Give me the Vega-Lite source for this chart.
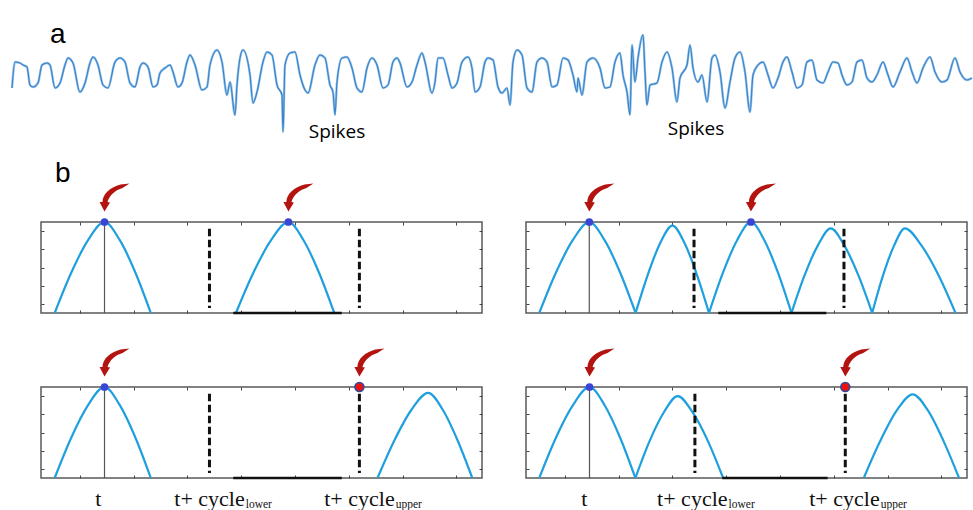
{
 "$schema": "https://vega.github.io/schema/vega-lite/v6.json",
 "padding": 0,
 "background": "white",
 "config": {"view": {"stroke": null}, "axis": {"grid": false}},
 "datasets": {
  "eeg": [
   {"t":0.12,"v":-13},{"t":0.15,"v":13},{"t":0.20,"v":12},{"t":0.23,"v":10},{"t":0.27,"v":8},{"t":0.30,"v":-10},{"t":0.33,"v":-12},{"t":0.38,"v":-8},{"t":0.42,"v":10},{"t":0.47,"v":12},{"t":0.50,"v":10},{"t":0.55,"v":-13},{"t":0.60,"v":-8},{"t":0.65,"v":10},{"t":0.68,"v":17},{"t":0.73,"v":12},{"t":0.80,"v":-17},{"t":0.85,"v":-8},{"t":0.90,"v":12},{"t":0.93,"v":18},{"t":0.98,"v":10},{"t":1.03,"v":-10},{"t":1.08,"v":-13},{"t":1.15,"v":13},{"t":1.20,"v":17},{"t":1.25,"v":13},{"t":1.30,"v":-8},{"t":1.35,"v":-12},{"t":1.40,"v":8},{"t":1.43,"v":12},{"t":1.48,"v":8},{"t":1.53,"v":-12},{"t":1.57,"v":-10},{"t":1.60,"v":2},{"t":1.65,"v":7},{"t":1.70,"v":10},{"t":1.73,"v":3},{"t":1.78,"v":-12},{"t":1.82,"v":-8},{"t":1.87,"v":13},{"t":1.90,"v":20},{"t":1.95,"v":10},{"t":2.02,"v":-15},{"t":2.07,"v":-12},{"t":2.10,"v":10},{"t":2.17,"v":25},{"t":2.22,"v":13},{"t":2.27,"v":-20},{"t":2.30,"v":-7},{"t":2.35,"v":-40},{"t":2.37,"v":-10},{"t":2.40,"v":17},{"t":2.43,"v":25},
   {"t":2.50,"v":0},{"t":2.53,"v":-28},{"t":2.57,"v":-17},{"t":2.63,"v":13},{"t":2.67,"v":23},{"t":2.72,"v":20},{"t":2.77,"v":-10},{"t":2.82,"v":-20},{"t":2.83,"v":-57},{"t":2.85,"v":10},{"t":2.90,"v":22},{"t":2.95,"v":23},{"t":3.00,"v":0},{"t":3.05,"v":-15},{"t":3.08,"v":-18},{"t":3.15,"v":10},{"t":3.20,"v":20},{"t":3.25,"v":17},{"t":3.30,"v":-10},{"t":3.33,"v":-17},{"t":3.35,"v":-40},{"t":3.37,"v":-7},{"t":3.42,"v":17},{"t":3.47,"v":18},{"t":3.52,"v":7},{"t":3.57,"v":-13},{"t":3.62,"v":-17},{"t":3.67,"v":7},{"t":3.72,"v":17},{"t":3.77,"v":10},{"t":3.83,"v":-13},{"t":3.88,"v":-10},{"t":3.93,"v":13},{"t":3.97,"v":17},{"t":4.00,"v":12},{"t":4.07,"v":-12},{"t":4.12,"v":-7},{"t":4.17,"v":10},{"t":4.22,"v":22},{"t":4.25,"v":13},{"t":4.32,"v":-18},{"t":4.35,"v":-7},{"t":4.38,"v":17},{"t":4.43,"v":17},{"t":4.48,"v":0},{"t":4.52,"v":-13},{"t":4.57,"v":-8},{"t":4.62,"v":13},{"t":4.68,"v":18},{"t":4.72,"v":7},{"t":4.75,"v":-17},{"t":4.80,"v":-12},{"t":4.85,"v":13},{"t":4.88,"v":17},
   {"t":4.93,"v":15},{"t":4.98,"v":-12},{"t":5.02,"v":-18},{"t":5.07,"v":-13},{"t":5.10,"v":-30},{"t":5.13,"v":13},{"t":5.17,"v":25},{"t":5.22,"v":20},{"t":5.27,"v":-13},{"t":5.32,"v":-17},{"t":5.37,"v":13},{"t":5.42,"v":17},{"t":5.47,"v":13},{"t":5.52,"v":-12},{"t":5.57,"v":-10},{"t":5.63,"v":17},{"t":5.68,"v":15},{"t":5.73,"v":0},{"t":5.77,"v":-17},{"t":5.78,"v":-3},{"t":5.82,"v":-20},{"t":5.87,"v":13},{"t":5.93,"v":17},{"t":6.00,"v":7},{"t":6.05,"v":-13},{"t":6.10,"v":-12},{"t":6.15,"v":13},{"t":6.20,"v":22},{"t":6.23,"v":0},{"t":6.27,"v":-17},{"t":6.30,"v":-40},{"t":6.32,"v":30},{"t":6.35,"v":-7},{"t":6.38,"v":17},{"t":6.43,"v":40},{"t":6.45,"v":3},{"t":6.47,"v":-30},{"t":6.50,"v":-10},{"t":6.57,"v":-8},{"t":6.62,"v":13},{"t":6.67,"v":23},{"t":6.72,"v":7},{"t":6.77,"v":-27},{"t":6.80,"v":-3},{"t":6.87,"v":10},{"t":6.90,"v":30},{"t":6.93,"v":7},{"t":6.98,"v":-7},{"t":7.02,"v":0},{"t":7.07,"v":-27},{"t":7.12,"v":17},{"t":7.15,"v":20},{"t":7.20,"v":3},
   {"t":7.25,"v":-33},{"t":7.30,"v":-7},{"t":7.35,"v":17},{"t":7.40,"v":23},{"t":7.45,"v":3},{"t":7.50,"v":-37},{"t":7.53,"v":0},{"t":7.58,"v":10},{"t":7.63,"v":13},{"t":7.68,"v":0},{"t":7.73,"v":-13},{"t":7.78,"v":-3},{"t":7.83,"v":13},{"t":7.87,"v":18},{"t":7.92,"v":3},{"t":7.97,"v":-13},{"t":8.02,"v":-10},{"t":8.07,"v":13},{"t":8.12,"v":15},{"t":8.17,"v":-5},{"t":8.23,"v":-8},{"t":8.28,"v":3},{"t":8.33,"v":13},{"t":8.38,"v":12},{"t":8.42,"v":0},{"t":8.47,"v":-10},{"t":8.52,"v":-7},{"t":8.57,"v":13},{"t":8.62,"v":15},{"t":8.67,"v":-3},{"t":8.72,"v":-7},{"t":8.77,"v":0},{"t":8.83,"v":13},{"t":8.88,"v":0},{"t":8.93,"v":-12},{"t":9.00,"v":3},{"t":9.07,"v":17},{"t":9.12,"v":3},{"t":9.17,"v":-8},{"t":9.23,"v":7},{"t":9.30,"v":18},{"t":9.35,"v":3},{"t":9.42,"v":-7},{"t":9.47,"v":-5},{"t":9.55,"v":17},{"t":9.60,"v":3},{"t":9.67,"v":-5},{"t":9.72,"v":-3}
  ],
  "notes": [
   {"t":0.50,"v":32,"label":"a","kind":"panel"},
   {"t":0.55,"v":-107,"label":"b","kind":"panel"},
   {"t":3.37,"v":-63,"label":"Spikes","kind":"note"},
   {"t":6.96,"v":-60,"label":"Spikes","kind":"note"}
  ],
  "curves": [
   {"panel":"TL","hump":1,"x":3.1,"y":0},{"panel":"TL","hump":1,"x":6.83,"y":0.44},{"panel":"TL","hump":1,"x":10.67,"y":0.8},{"panel":"TL","hump":1,"x":14.4,"y":1},{"panel":"TL","hump":1,"x":17.87,"y":0.8},{"panel":"TL","hump":1,"x":21.44,"y":0.44},{"panel":"TL","hump":1,"x":24.9,"y":0},
   {"panel":"TL","hump":2,"x":44.2,"y":0},{"panel":"TL","hump":2,"x":48.13,"y":0.44},{"panel":"TL","hump":2,"x":52.17,"y":0.8},{"panel":"TL","hump":2,"x":56.1,"y":1},{"panel":"TL","hump":2,"x":59.53,"y":0.8},{"panel":"TL","hump":2,"x":63.07,"y":0.44},{"panel":"TL","hump":2,"x":66.5,"y":0},
   {"panel":"TR","hump":1,"x":3.0,"y":0},{"panel":"TR","hump":1,"x":6.75,"y":0.44},{"panel":"TR","hump":1,"x":10.6,"y":0.8},{"panel":"TR","hump":1,"x":14.35,"y":1},{"panel":"TR","hump":1,"x":17.82,"y":0.8},{"panel":"TR","hump":1,"x":21.39,"y":0.44},{"panel":"TR","hump":1,"x":24.85,"y":0},
   {"panel":"TR","hump":2,"x":24.85,"y":0},{"panel":"TR","hump":2,"x":27.61,"y":0.42},{"panel":"TR","hump":2,"x":30.44,"y":0.77},{"panel":"TR","hump":2,"x":33.2,"y":0.96},{"panel":"TR","hump":2,"x":35.94,"y":0.77},{"panel":"TR","hump":2,"x":38.76,"y":0.42},{"panel":"TR","hump":2,"x":41.5,"y":0},
   {"panel":"TR","hump":3,"x":41.5,"y":0},{"panel":"TR","hump":3,"x":44.64,"y":0.44},{"panel":"TR","hump":3,"x":47.87,"y":0.8},{"panel":"TR","hump":3,"x":51.0,"y":1},{"panel":"TR","hump":3,"x":54.04,"y":0.8},{"panel":"TR","hump":3,"x":57.16,"y":0.44},{"panel":"TR","hump":3,"x":60.2,"y":0},
   {"panel":"TR","hump":4,"x":60.2,"y":0},{"panel":"TR","hump":4,"x":63.14,"y":0.41},{"panel":"TR","hump":4,"x":66.16,"y":0.74},{"panel":"TR","hump":4,"x":69.1,"y":0.93},{"panel":"TR","hump":4,"x":72.2,"y":0.74},{"panel":"TR","hump":4,"x":75.4,"y":0.41},{"panel":"TR","hump":4,"x":78.5,"y":0},
   {"panel":"TR","hump":5,"x":78.5,"y":0},{"panel":"TR","hump":5,"x":80.94,"y":0.41},{"panel":"TR","hump":5,"x":83.46,"y":0.74},{"panel":"TR","hump":5,"x":85.9,"y":0.93},{"panel":"TR","hump":5,"x":89.7,"y":0.74},{"panel":"TR","hump":5,"x":93.6,"y":0.41},{"panel":"TR","hump":5,"x":97.4,"y":0},
   {"panel":"BL","hump":1,"x":3.1,"y":0},{"panel":"BL","hump":1,"x":6.83,"y":0.44},{"panel":"BL","hump":1,"x":10.67,"y":0.8},{"panel":"BL","hump":1,"x":14.4,"y":1},{"panel":"BL","hump":1,"x":17.87,"y":0.8},{"panel":"BL","hump":1,"x":21.44,"y":0.44},{"panel":"BL","hump":1,"x":24.9,"y":0},
   {"panel":"BL","hump":2,"x":76.3,"y":0},{"panel":"BL","hump":2,"x":80.1,"y":0.41},{"panel":"BL","hump":2,"x":84.0,"y":0.75},{"panel":"BL","hump":2,"x":87.8,"y":0.935},{"panel":"BL","hump":2,"x":91.1,"y":0.75},{"panel":"BL","hump":2,"x":94.5,"y":0.41},{"panel":"BL","hump":2,"x":97.8,"y":0},
   {"panel":"BR","hump":1,"x":3.0,"y":0},{"panel":"BR","hump":1,"x":6.76,"y":0.44},{"panel":"BR","hump":1,"x":10.64,"y":0.8},{"panel":"BR","hump":1,"x":14.4,"y":1},{"panel":"BR","hump":1,"x":17.83,"y":0.8},{"panel":"BR","hump":1,"x":21.37,"y":0.44},{"panel":"BR","hump":1,"x":24.8,"y":0},
   {"panel":"BR","hump":2,"x":24.8,"y":0},{"panel":"BR","hump":2,"x":27.97,"y":0.4},{"panel":"BR","hump":2,"x":31.23,"y":0.72},{"panel":"BR","hump":2,"x":34.4,"y":0.9},{"panel":"BR","hump":2,"x":37.8,"y":0.72},{"panel":"BR","hump":2,"x":41.3,"y":0.4},{"panel":"BR","hump":2,"x":44.7,"y":0},
   {"panel":"BR","hump":3,"x":76.6,"y":0},{"panel":"BR","hump":3,"x":80.26,"y":0.4},{"panel":"BR","hump":3,"x":84.04,"y":0.74},{"panel":"BR","hump":3,"x":87.7,"y":0.92},{"panel":"BR","hump":3,"x":91.17,"y":0.74},{"panel":"BR","hump":3,"x":94.74,"y":0.4},{"panel":"BR","hump":3,"x":98.2,"y":0}
  ],
  "refs": [
   {"panel":"TL","x":14.4,"role":"t"},{"panel":"TL","x":38.2,"role":"lower"},{"panel":"TL","x":72.2,"role":"upper"},
   {"panel":"TR","x":14.35,"role":"t"},{"panel":"TR","x":38.1,"role":"lower"},{"panel":"TR","x":72.1,"role":"upper"},
   {"panel":"BL","x":14.4,"role":"t"},{"panel":"BL","x":38.2,"role":"lower"},{"panel":"BL","x":72.2,"role":"upper"},
   {"panel":"BR","x":14.4,"role":"t"},{"panel":"BR","x":38.3,"role":"lower"},{"panel":"BR","x":72.4,"role":"upper"}
  ],
  "events": [
   {"panel":"TL","x":14.4,"kind":"peak"},{"panel":"TL","x":56.1,"kind":"peak"},
   {"panel":"TR","x":14.35,"kind":"peak"},{"panel":"TR","x":51.0,"kind":"peak"},
   {"panel":"BL","x":14.4,"kind":"peak"},{"panel":"BL","x":72.2,"kind":"bound"},
   {"panel":"BR","x":14.4,"kind":"peak"},{"panel":"BR","x":72.4,"kind":"bound"}
  ],
  "base": [
   {"panel":"TL","x":43.6,"x2":68.2},{"panel":"TR","x":43.6,"x2":68.1},
   {"panel":"BL","x":43.6,"x2":68.2},{"panel":"BR","x":44.5,"x2":68.4}
  ],
  "xlabels": [
   {"panel":"BL","x":13.0,"text":"t","part":"t"},
   {"panel":"BL","x":46.2,"text":"t+ cycle","part":"main"},{"panel":"BL","x":46.2,"text":"lower","part":"sub"},
   {"panel":"BL","x":80.2,"text":"t+ cycle","part":"main"},{"panel":"BL","x":80.2,"text":"upper","part":"sub"},
   {"panel":"BR","x":13.2,"text":"t","part":"t"},
   {"panel":"BR","x":45.7,"text":"t+ cycle","part":"main"},{"panel":"BR","x":45.7,"text":"lower","part":"sub"},
   {"panel":"BR","x":80.2,"text":"t+ cycle","part":"main"},{"panel":"BR","x":80.2,"text":"upper","part":"sub"}
  ]
 },
 "bounds": "flush",
 "spacing": 0,
 "vconcat": [
  {
   "width": 973, "height": 148,
   "layer": [
    {"data":{"name":"eeg"},"mark":{"type":"line","color":"#92c2ea","strokeWidth":2.4,"interpolate":"monotone"},
     "encoding":{"x":{"field":"t","type":"quantitative","scale":{"domain":[0,9.73],"nice":false,"zero":false},"axis":null},
                 "y":{"field":"v","type":"quantitative","scale":{"domain":[-73,75],"nice":false,"zero":false},"axis":null}}},
    {"data":{"name":"eeg"},"mark":{"type":"line","color":"#2a76c0","strokeWidth":1.1,"opacity":0.85,"interpolate":"monotone"},
     "encoding":{"x":{"field":"t","type":"quantitative","axis":null},"y":{"field":"v","type":"quantitative","axis":null}}},
    {"data":{"name":"notes"},"transform":[{"filter":"datum.kind === 'panel'"}],
     "mark":{"type":"text","font":"Liberation Sans","fontSize":28,"align":"left","baseline":"alphabetic","color":"#000000"},
     "encoding":{"x":{"field":"t","type":"quantitative","axis":null},"y":{"field":"v","type":"quantitative","axis":null},"text":{"field":"label"}}},
    {"data":{"name":"notes"},"transform":[{"filter":"datum.kind === 'note'"}],
     "mark":{"type":"text","font":"Open Sans","fontSize":19,"align":"center","baseline":"alphabetic","color":"#000000"},
     "encoding":{"x":{"field":"t","type":"quantitative","axis":null},"y":{"field":"v","type":"quantitative","axis":null},"text":{"field":"label"}}}
   ]
  },
  {"width": 1, "height": 74, "data": {"values": [{}]}, "mark": {"type": "text", "text": ""}},
  {
   "bounds": "flush", "spacing": 0,
   "hconcat": [
    {"width": 41, "height": 91, "data": {"values": [{}]}, "mark": {"type": "text", "text": ""}},
    {
     "width": 441, "height": 91,
     "view": {"stroke": "#5a5a5a", "strokeWidth": 1.5},
     "resolve": {"axis": {"x": "independent", "y": "independent"}},
     "layer": [
      {"data":{"name":"curves"},"transform":[{"filter":"datum.panel === 'TL'"}],
       "mark":{"type":"line","color":"#1e9fde","strokeWidth":2.2,"interpolate":"monotone"},
       "encoding":{"x":{"field":"x","type":"quantitative","scale":{"domain":[0,100],"nice":false,"zero":false},"axis":{"orient":"bottom","values":[8.8,21,33.2,45.4,57.6,69.8,82,94.2],"tickSize":-3,"tickColor":"#444444","labels":false,"domain":false,"grid":false,"title":null}},
                   "y":{"field":"y","type":"quantitative","scale":{"domain":[0,1],"nice":false,"zero":false},"axis":{"orient":"left","values":[0.1,0.3,0.5,0.7,0.9],"tickSize":-3,"tickColor":"#444444","labels":false,"domain":false,"grid":false,"title":null}},
                   "detail":{"field":"hump"}}},
      {"data":{"name":"refs"},"transform":[{"filter":"datum.panel === 'TL' && datum.role !== 't'"}],
       "mark":{"type":"rule","color":"#111111","strokeWidth":3,"strokeDash":[7.5,3.5]},
       "encoding":{"x":{"field":"x","type":"quantitative","axis":{"orient":"top","values":[8.8,21,33.2,45.4,57.6,69.8,82,94.2],"tickSize":-3,"tickColor":"#444444","labels":false,"domain":false,"grid":false,"title":null}},
                   "y":{"datum":0.925,"type":"quantitative","axis":{"orient":"right","values":[0.1,0.3,0.5,0.7,0.9],"tickSize":-3,"tickColor":"#444444","labels":false,"domain":false,"grid":false,"title":null}},
                   "y2":{"datum":0.055}}},
      {"data":{"name":"refs"},"transform":[{"filter":"datum.panel === 'TL' && datum.role === 't'"}],
       "mark":{"type":"rule","color":"#555555","strokeWidth":1.2},
       "encoding":{"x":{"field":"x","type":"quantitative","axis":null},"y":{"datum":0,"type":"quantitative","axis":null},"y2":{"datum":1}}},
      {"data":{"name":"base"},"transform":[{"filter":"datum.panel === 'TL'"}],
       "mark":{"type":"rule","color":"#111111","strokeWidth":2.5},
       "encoding":{"x":{"field":"x","type":"quantitative","axis":null},"x2":{"field":"x2"},"y":{"datum":0,"type":"quantitative","axis":null}}},
      {"data":{"name":"events"},"transform":[{"filter":"datum.panel === 'TL' && datum.kind === 'peak'"}],
       "mark":{"type":"point","shape":"circle","size":60,"filled":true,"color":"#3a45d4","opacity":1},
       "encoding":{"x":{"field":"x","type":"quantitative","axis":null},"y":{"datum":1,"type":"quantitative","axis":null}}},
      {"data":{"name":"events"},"transform":[{"filter":"datum.panel === 'TL'"}],
       "mark":{"type":"point","shape":"M0,-10.5L-5,-20L-2,-20C-2,-28,6,-35,16,-37.5L25,-38.5L18,-34C11,-32,5,-27,3,-20L5.5,-19.5Z","size":4,"filled":true,"color":"#b3140f","opacity":1,"strokeWidth":0},
       "encoding":{"x":{"field":"x","type":"quantitative","axis":null},"y":{"datum":1,"type":"quantitative","axis":null}}}
     ]
    },
    {"width": 44, "height": 91, "data": {"values": [{}]}, "mark": {"type": "text", "text": ""}},
    {
     "width": 441, "height": 91,
     "view": {"stroke": "#5a5a5a", "strokeWidth": 1.5},
     "resolve": {"axis": {"x": "independent", "y": "independent"}},
     "layer": [
      {"data":{"name":"curves"},"transform":[{"filter":"datum.panel === 'TR'"}],
       "mark":{"type":"line","color":"#1e9fde","strokeWidth":2.2,"interpolate":"monotone"},
       "encoding":{"x":{"field":"x","type":"quantitative","scale":{"domain":[0,100],"nice":false,"zero":false},"axis":{"orient":"bottom","values":[8.8,21,33.2,45.4,57.6,69.8,82,94.2],"tickSize":-3,"tickColor":"#444444","labels":false,"domain":false,"grid":false,"title":null}},
                   "y":{"field":"y","type":"quantitative","scale":{"domain":[0,1],"nice":false,"zero":false},"axis":{"orient":"left","values":[0.1,0.3,0.5,0.7,0.9],"tickSize":-3,"tickColor":"#444444","labels":false,"domain":false,"grid":false,"title":null}},
                   "detail":{"field":"hump"}}},
      {"data":{"name":"refs"},"transform":[{"filter":"datum.panel === 'TR' && datum.role !== 't'"}],
       "mark":{"type":"rule","color":"#111111","strokeWidth":3,"strokeDash":[7.5,3.5]},
       "encoding":{"x":{"field":"x","type":"quantitative","axis":{"orient":"top","values":[8.8,21,33.2,45.4,57.6,69.8,82,94.2],"tickSize":-3,"tickColor":"#444444","labels":false,"domain":false,"grid":false,"title":null}},
                   "y":{"datum":0.925,"type":"quantitative","axis":{"orient":"right","values":[0.1,0.3,0.5,0.7,0.9],"tickSize":-3,"tickColor":"#444444","labels":false,"domain":false,"grid":false,"title":null}},
                   "y2":{"datum":0.055}}},
      {"data":{"name":"refs"},"transform":[{"filter":"datum.panel === 'TR' && datum.role === 't'"}],
       "mark":{"type":"rule","color":"#555555","strokeWidth":1.2},
       "encoding":{"x":{"field":"x","type":"quantitative","axis":null},"y":{"datum":0,"type":"quantitative","axis":null},"y2":{"datum":1}}},
      {"data":{"name":"base"},"transform":[{"filter":"datum.panel === 'TR'"}],
       "mark":{"type":"rule","color":"#111111","strokeWidth":2.5},
       "encoding":{"x":{"field":"x","type":"quantitative","axis":null},"x2":{"field":"x2"},"y":{"datum":0,"type":"quantitative","axis":null}}},
      {"data":{"name":"events"},"transform":[{"filter":"datum.panel === 'TR' && datum.kind === 'peak'"}],
       "mark":{"type":"point","shape":"circle","size":60,"filled":true,"color":"#3a45d4","opacity":1},
       "encoding":{"x":{"field":"x","type":"quantitative","axis":null},"y":{"datum":1,"type":"quantitative","axis":null}}},
      {"data":{"name":"events"},"transform":[{"filter":"datum.panel === 'TR'"}],
       "mark":{"type":"point","shape":"M0,-10.5L-5,-20L-2,-20C-2,-28,6,-35,16,-37.5L25,-38.5L18,-34C11,-32,5,-27,3,-20L5.5,-19.5Z","size":4,"filled":true,"color":"#b3140f","opacity":1,"strokeWidth":0},
       "encoding":{"x":{"field":"x","type":"quantitative","axis":null},"y":{"datum":1,"type":"quantitative","axis":null}}}
     ]
    }
   ]
  },
  {"width": 1, "height": 165, "data": {"values": [{}]}, "mark": {"type": "text", "text": ""}},
  {
   "bounds": "flush", "spacing": 0,
   "hconcat": [
    {"width": 41, "height": 91, "data": {"values": [{}]}, "mark": {"type": "text", "text": ""}},
    {
     "width": 441, "height": 91,
     "view": {"stroke": "#5a5a5a", "strokeWidth": 1.5},
     "resolve": {"axis": {"x": "independent", "y": "independent"}},
     "layer": [
      {"data":{"name":"curves"},"transform":[{"filter":"datum.panel === 'BL'"}],
       "mark":{"type":"line","color":"#1e9fde","strokeWidth":2.2,"interpolate":"monotone"},
       "encoding":{"x":{"field":"x","type":"quantitative","scale":{"domain":[0,100],"nice":false,"zero":false},"axis":{"orient":"bottom","values":[8.8,21,33.2,45.4,57.6,69.8,82,94.2],"tickSize":-3,"tickColor":"#444444","labels":false,"domain":false,"grid":false,"title":null}},
                   "y":{"field":"y","type":"quantitative","scale":{"domain":[0,1],"nice":false,"zero":false},"axis":{"orient":"left","values":[0.1,0.3,0.5,0.7,0.9],"tickSize":-3,"tickColor":"#444444","labels":false,"domain":false,"grid":false,"title":null}},
                   "detail":{"field":"hump"}}},
      {"data":{"name":"refs"},"transform":[{"filter":"datum.panel === 'BL' && datum.role !== 't'"}],
       "mark":{"type":"rule","color":"#111111","strokeWidth":3,"strokeDash":[7.5,3.5]},
       "encoding":{"x":{"field":"x","type":"quantitative","axis":{"orient":"top","values":[8.8,21,33.2,45.4,57.6,69.8,82,94.2],"tickSize":-3,"tickColor":"#444444","labels":false,"domain":false,"grid":false,"title":null}},
                   "y":{"datum":0.925,"type":"quantitative","axis":{"orient":"right","values":[0.1,0.3,0.5,0.7,0.9],"tickSize":-3,"tickColor":"#444444","labels":false,"domain":false,"grid":false,"title":null}},
                   "y2":{"datum":0.055}}},
      {"data":{"name":"refs"},"transform":[{"filter":"datum.panel === 'BL' && datum.role === 't'"}],
       "mark":{"type":"rule","color":"#555555","strokeWidth":1.2},
       "encoding":{"x":{"field":"x","type":"quantitative","axis":null},"y":{"datum":0,"type":"quantitative","axis":null},"y2":{"datum":1}}},
      {"data":{"name":"base"},"transform":[{"filter":"datum.panel === 'BL'"}],
       "mark":{"type":"rule","color":"#111111","strokeWidth":2.5},
       "encoding":{"x":{"field":"x","type":"quantitative","axis":null},"x2":{"field":"x2"},"y":{"datum":0,"type":"quantitative","axis":null}}},
      {"data":{"name":"events"},"transform":[{"filter":"datum.panel === 'BL' && datum.kind === 'peak'"}],
       "mark":{"type":"point","shape":"circle","size":60,"filled":true,"color":"#3a45d4","opacity":1},
       "encoding":{"x":{"field":"x","type":"quantitative","axis":null},"y":{"datum":1,"type":"quantitative","axis":null}}},
      {"data":{"name":"events"},"transform":[{"filter":"datum.panel === 'BL' && datum.kind === 'bound'"}],
       "mark":{"type":"point","shape":"circle","size":80,"filled":true,"fill":"#ee1111","stroke":"#2c4b9c","strokeWidth":1.6,"opacity":1},
       "encoding":{"x":{"field":"x","type":"quantitative","axis":null},"y":{"datum":1,"type":"quantitative","axis":null}}},
      {"data":{"name":"events"},"transform":[{"filter":"datum.panel === 'BL'"}],
       "mark":{"type":"point","shape":"M0,-10.5L-5,-20L-2,-20C-2,-28,6,-35,16,-37.5L25,-38.5L18,-34C11,-32,5,-27,3,-20L5.5,-19.5Z","size":4,"filled":true,"color":"#b3140f","opacity":1,"strokeWidth":0},
       "encoding":{"x":{"field":"x","type":"quantitative","axis":null},"y":{"datum":1,"type":"quantitative","axis":null}}},
      {"data":{"name":"xlabels"},"transform":[{"filter":"datum.panel === 'BL' && datum.part === 't'"}],
       "mark":{"type":"text","font":"Liberation Serif","fontSize":22,"align":"center","baseline":"alphabetic","color":"#111111"},
       "encoding":{"x":{"field":"x","type":"quantitative","axis":null},"y":{"datum":-0.31,"type":"quantitative","axis":null},"text":{"field":"text"}}},
      {"data":{"name":"xlabels"},"transform":[{"filter":"datum.panel === 'BL' && datum.part === 'main'"}],
       "mark":{"type":"text","font":"Liberation Serif","fontSize":22,"align":"right","baseline":"alphabetic","color":"#111111"},
       "encoding":{"x":{"field":"x","type":"quantitative","axis":null},"y":{"datum":-0.31,"type":"quantitative","axis":null},"text":{"field":"text"}}},
      {"data":{"name":"xlabels"},"transform":[{"filter":"datum.panel === 'BL' && datum.part === 'sub'"}],
       "mark":{"type":"text","font":"Liberation Serif","fontSize":11.5,"align":"left","baseline":"alphabetic","dx":1,"color":"#111111"},
       "encoding":{"x":{"field":"x","type":"quantitative","axis":null},"y":{"datum":-0.335,"type":"quantitative","axis":null},"text":{"field":"text"}}}
     ]
    },
    {"width": 44, "height": 91, "data": {"values": [{}]}, "mark": {"type": "text", "text": ""}},
    {
     "width": 441, "height": 91,
     "view": {"stroke": "#5a5a5a", "strokeWidth": 1.5},
     "resolve": {"axis": {"x": "independent", "y": "independent"}},
     "layer": [
      {"data":{"name":"curves"},"transform":[{"filter":"datum.panel === 'BR'"}],
       "mark":{"type":"line","color":"#1e9fde","strokeWidth":2.2,"interpolate":"monotone"},
       "encoding":{"x":{"field":"x","type":"quantitative","scale":{"domain":[0,100],"nice":false,"zero":false},"axis":{"orient":"bottom","values":[8.8,21,33.2,45.4,57.6,69.8,82,94.2],"tickSize":-3,"tickColor":"#444444","labels":false,"domain":false,"grid":false,"title":null}},
                   "y":{"field":"y","type":"quantitative","scale":{"domain":[0,1],"nice":false,"zero":false},"axis":{"orient":"left","values":[0.1,0.3,0.5,0.7,0.9],"tickSize":-3,"tickColor":"#444444","labels":false,"domain":false,"grid":false,"title":null}},
                   "detail":{"field":"hump"}}},
      {"data":{"name":"refs"},"transform":[{"filter":"datum.panel === 'BR' && datum.role !== 't'"}],
       "mark":{"type":"rule","color":"#111111","strokeWidth":3,"strokeDash":[7.5,3.5]},
       "encoding":{"x":{"field":"x","type":"quantitative","axis":{"orient":"top","values":[8.8,21,33.2,45.4,57.6,69.8,82,94.2],"tickSize":-3,"tickColor":"#444444","labels":false,"domain":false,"grid":false,"title":null}},
                   "y":{"datum":0.925,"type":"quantitative","axis":{"orient":"right","values":[0.1,0.3,0.5,0.7,0.9],"tickSize":-3,"tickColor":"#444444","labels":false,"domain":false,"grid":false,"title":null}},
                   "y2":{"datum":0.055}}},
      {"data":{"name":"refs"},"transform":[{"filter":"datum.panel === 'BR' && datum.role === 't'"}],
       "mark":{"type":"rule","color":"#555555","strokeWidth":1.2},
       "encoding":{"x":{"field":"x","type":"quantitative","axis":null},"y":{"datum":0,"type":"quantitative","axis":null},"y2":{"datum":1}}},
      {"data":{"name":"base"},"transform":[{"filter":"datum.panel === 'BR'"}],
       "mark":{"type":"rule","color":"#111111","strokeWidth":2.5},
       "encoding":{"x":{"field":"x","type":"quantitative","axis":null},"x2":{"field":"x2"},"y":{"datum":0,"type":"quantitative","axis":null}}},
      {"data":{"name":"events"},"transform":[{"filter":"datum.panel === 'BR' && datum.kind === 'peak'"}],
       "mark":{"type":"point","shape":"circle","size":60,"filled":true,"color":"#3a45d4","opacity":1},
       "encoding":{"x":{"field":"x","type":"quantitative","axis":null},"y":{"datum":1,"type":"quantitative","axis":null}}},
      {"data":{"name":"events"},"transform":[{"filter":"datum.panel === 'BR' && datum.kind === 'bound'"}],
       "mark":{"type":"point","shape":"circle","size":80,"filled":true,"fill":"#ee1111","stroke":"#2c4b9c","strokeWidth":1.6,"opacity":1},
       "encoding":{"x":{"field":"x","type":"quantitative","axis":null},"y":{"datum":1,"type":"quantitative","axis":null}}},
      {"data":{"name":"events"},"transform":[{"filter":"datum.panel === 'BR'"}],
       "mark":{"type":"point","shape":"M0,-10.5L-5,-20L-2,-20C-2,-28,6,-35,16,-37.5L25,-38.5L18,-34C11,-32,5,-27,3,-20L5.5,-19.5Z","size":4,"filled":true,"color":"#b3140f","opacity":1,"strokeWidth":0},
       "encoding":{"x":{"field":"x","type":"quantitative","axis":null},"y":{"datum":1,"type":"quantitative","axis":null}}},
      {"data":{"name":"xlabels"},"transform":[{"filter":"datum.panel === 'BR' && datum.part === 't'"}],
       "mark":{"type":"text","font":"Liberation Serif","fontSize":22,"align":"center","baseline":"alphabetic","color":"#111111"},
       "encoding":{"x":{"field":"x","type":"quantitative","axis":null},"y":{"datum":-0.31,"type":"quantitative","axis":null},"text":{"field":"text"}}},
      {"data":{"name":"xlabels"},"transform":[{"filter":"datum.panel === 'BR' && datum.part === 'main'"}],
       "mark":{"type":"text","font":"Liberation Serif","fontSize":22,"align":"right","baseline":"alphabetic","color":"#111111"},
       "encoding":{"x":{"field":"x","type":"quantitative","axis":null},"y":{"datum":-0.31,"type":"quantitative","axis":null},"text":{"field":"text"}}},
      {"data":{"name":"xlabels"},"transform":[{"filter":"datum.panel === 'BR' && datum.part === 'sub'"}],
       "mark":{"type":"text","font":"Liberation Serif","fontSize":11.5,"align":"left","baseline":"alphabetic","dx":1,"color":"#111111"},
       "encoding":{"x":{"field":"x","type":"quantitative","axis":null},"y":{"datum":-0.335,"type":"quantitative","axis":null},"text":{"field":"text"}}}
     ]
    }
   ]
  }
 ]
}
